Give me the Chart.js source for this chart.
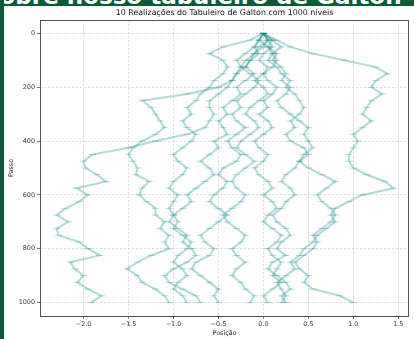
<!DOCTYPE html>
<html><head><meta charset="utf-8">
<script src="https://cdn.jsdelivr.net/npm/chart.js@4/dist/chart.umd.min.js"></script>
<style>
html,body{margin:0;padding:0;background:#fff;width:414px;height:339px;overflow:hidden;}
#band{position:absolute;left:0;top:0;width:414px;height:6px;background:#0d5a38;overflow:hidden;}
#band span{position:absolute;left:-17px;top:-17.5px;font:bold 23px "DejaVu Sans";color:#fff;white-space:nowrap;}
#strip{position:absolute;left:0;top:0;width:4px;height:339px;background:#0d5a38;}
canvas{position:absolute;left:0;top:0;}
</style></head><body>
<canvas id="c" width="414" height="339"></canvas>
<div id="band"><span>Sobre nosso tabuleiro de Galton</span></div>
<div id="strip"></div>
<script>
const steps = [0,25,50,75,100,125,150,175,200,225,250,275,300,325,350,375,400,425,450,475,500,525,550,575,600,625,650,675,700,725,750,775,800,825,850,875,900,925,950,975,1000];
const walk1 = [0,0.05,-0.05,-0.1,-0.2,-0.25,-0.3,-0.35,-0.4,-0.5,-0.6,-0.6,-0.55,-0.6,-0.65,-0.85,-1.2,-1.5,-1.9,-2.0,-1.98,-1.85,-1.75,-2.08,-1.95,-2.05,-2.2,-2.3,-2.17,-2.3,-2.28,-2.05,-1.95,-1.82,-2.15,-2.1,-2.0,-2.07,-1.95,-1.8,-1.92];
const walk2 = [0,-0.05,-0.1,-0.05,-0.15,-0.2,-0.3,-0.35,-0.5,-0.85,-1.35,-1.25,-1.2,-1.15,-1.1,-1.2,-1.35,-1.45,-1.5,-1.45,-1.4,-1.42,-1.27,-1.35,-1.38,-1.3,-1.2,-1.2,-1.1,-1.15,-1.05,-1.1,-1.05,-1.25,-1.4,-1.52,-1.4,-1.35,-1.2,-1.1,-1.05];
const walk3 = [0,-0.15,-0.45,-0.6,-0.45,-0.4,-0.45,-0.55,-0.6,-0.7,-0.75,-0.85,-0.8,-0.9,-0.85,-0.75,-0.8,-0.9,-1.0,-0.95,-0.85,-0.9,-1.0,-1.05,-0.95,-1.0,-1.05,-1.0,-0.95,-1.0,-0.9,-0.8,-0.85,-0.95,-1.0,-0.9,-0.85,-0.95,-1.0,-0.9,-0.85];
const walk4 = [0,0.05,0,-0.1,-0.15,-0.2,-0.1,-0.2,-0.3,-0.25,-0.35,-0.45,-0.4,-0.5,-0.45,-0.4,-0.55,-0.5,-0.6,-0.7,-0.6,-0.55,-0.65,-0.75,-0.85,-0.8,-0.9,-1.0,-1.05,-0.95,-0.85,-0.9,-0.8,-0.75,-0.85,-1.0,-1.1,-1.05,-0.9,-0.75,-0.7];
const walk5 = [0,-0.05,-0.1,-0.2,-0.3,-0.25,-0.15,-0.05,-0.1,-0.2,-0.3,-0.25,-0.35,-0.3,-0.2,-0.3,-0.4,-0.35,-0.25,-0.3,-0.45,-0.5,-0.4,-0.45,-0.55,-0.6,-0.5,-0.4,-0.5,-0.6,-0.7,-0.65,-0.55,-0.6,-0.75,-0.8,-0.7,-0.6,-0.5,-0.55,-0.5];
const walk6 = [0,0.05,0.1,0,-0.05,0.05,0,-0.1,0,0.05,-0.05,-0.15,-0.2,-0.1,-0.05,-0.15,-0.25,-0.3,-0.2,-0.1,-0.2,-0.3,-0.35,-0.3,-0.2,-0.25,-0.35,-0.45,-0.4,-0.3,-0.2,-0.25,-0.35,-0.3,-0.2,-0.3,-0.35,-0.25,-0.2,-0.1,-0.15];
const walk7 = [0,0.1,0.05,0.1,0.15,0.1,0,0.05,0.15,0.1,0,0.05,-0.05,0.05,0.1,0,-0.1,-0.05,0.05,0,-0.1,-0.05,0.05,0.1,0,0.1,0.15,0.05,0,0.1,0.2,0.15,0.05,0.1,0.2,0.15,0.1,0.2,0.1,0,0.05];
const walk8 = [0,0.1,0.2,0.1,0.05,0.15,0.2,0.3,0.25,0.35,0.4,0.45,0.4,0.3,0.35,0.25,0.3,0.45,0.5,0.4,0.35,0.25,0.2,0.3,0.35,0.25,0.2,0.1,0.15,0.25,0.3,0.2,0.15,0.25,0.1,0.05,0.15,0.25,0.3,0.2,0.25];
const walk9 = [0,0.15,0.3,0.55,0.9,1.25,1.38,1.25,1.2,1.32,1.2,1.15,1.1,1.2,1.1,1.0,1.05,1.0,0.95,0.95,1.0,1.15,1.35,1.45,1.1,0.95,0.8,0.75,0.8,0.7,0.6,0.55,0.45,0.4,0.3,0.35,0.25,0.15,0.2,0.25,0.2];
const walk10 = [0,-0.05,0.05,0.15,0.1,0.2,0.25,0.2,0.3,0.25,0.15,0.2,0.3,0.4,0.5,0.45,0.5,0.55,0.45,0.4,0.5,0.65,0.8,0.7,0.6,0.65,0.75,0.8,0.75,0.65,0.55,0.6,0.55,0.45,0.35,0.4,0.5,0.45,0.55,0.85,1.0];
const walks = [walk1,walk2,walk3,walk4,walk5,walk6,walk7,walk8,walk9,walk10];
const xTicks = [-2.0,-1.5,-1.0,-0.5,0.0,0.5,1.0,1.5];
const xTickLabels = ['\u22122.0','\u22121.5','\u22121.0','\u22120.5','0.0','0.5','1.0','1.5'];
const yTicks = [0,200,400,600,800,1000];
const yTickLabels = ['0','200','400','600','800','1000'];

const lineColor = 'rgba(0,128,128,0.3)';
const datasets = walks.map((w,k)=>({
  label: 'Realização ' + (k+1),
  data: steps.map((s,i)=>({x:w[i], y:s})),
  showLine: true,
  borderColor: lineColor,
  borderWidth: 2,
  pointStyle: 'line',
  pointRadius: 3.6,
  pointBorderWidth: 0.9,
  pointBorderColor: lineColor,
  pointBackgroundColor: lineColor,
  tension: 0
}));

const frame = {
  id:'frame',
  afterDatasetsDraw(chart){
    const {ctx, chartArea:a} = chart;
    ctx.save();
    ctx.strokeStyle = '#555';
    ctx.lineWidth = 1;
    ctx.strokeRect(Math.round(a.left)+0.5, Math.round(a.top)+0.5, Math.round(a.right-a.left)-1, Math.round(a.bottom-a.top));
    ctx.restore();
  }
};

const font = {family:'DejaVu Sans', size:6.4};
new Chart(document.getElementById('c'), {
  type:'scatter',
  data:{datasets},
  plugins:[frame],
  options:{
    responsive:false, animation:false, devicePixelRatio:1,
    layout:{padding:{top:0,left:0,right:1,bottom:0}},
    plugins:{
      legend:{display:false}, tooltip:{enabled:false},
      title:{display:true, fullSize:false, text:'10 Realizações do Tabuleiro de Galton com 1000 níveis', color:'#111',
        font:{family:'DejaVu Sans', size:7.9, weight:'normal'}, padding:{top:8, bottom:2.5}}
    },
    scales:{
      x:{type:'linear', min:-2.485, max:1.62,
        afterBuildTicks:s=>{s.ticks = xTicks.map(v=>({value:v}));},
        afterFit:s=>{s.height = 23;},
        ticks:{callback:(v,i)=>xTickLabels[i], font, color:'#333', padding:2, maxRotation:0, autoSkip:false},
        grid:{color:'rgba(190,190,190,0.7)', lineWidth:0.7, tickLength:3, tickColor:'#555', tickWidth:0.8},
        border:{display:false, dash:[2.5,1.5]},
        title:{display:true, text:'Posição', color:'#222', font, padding:{top:0,bottom:1.8}}
      },
      y:{type:'linear', reverse:true, min:-50, max:1050,
        afterBuildTicks:s=>{s.ticks = yTicks.map(v=>({value:v}));},
        afterFit:s=>{s.width = 40;},
        ticks:{callback:(v,i)=>yTickLabels[i], font, color:'#333', padding:2, autoSkip:false},
        grid:{color:'rgba(190,190,190,0.7)', lineWidth:0.7, tickLength:3, tickColor:'#555', tickWidth:0.8},
        border:{display:false, dash:[2.5,1.5]},
        title:{display:true, text:'Passo', color:'#222', font, padding:{top:8,bottom:0}}
      }
    }
  }
});
</script>
</body></html>
